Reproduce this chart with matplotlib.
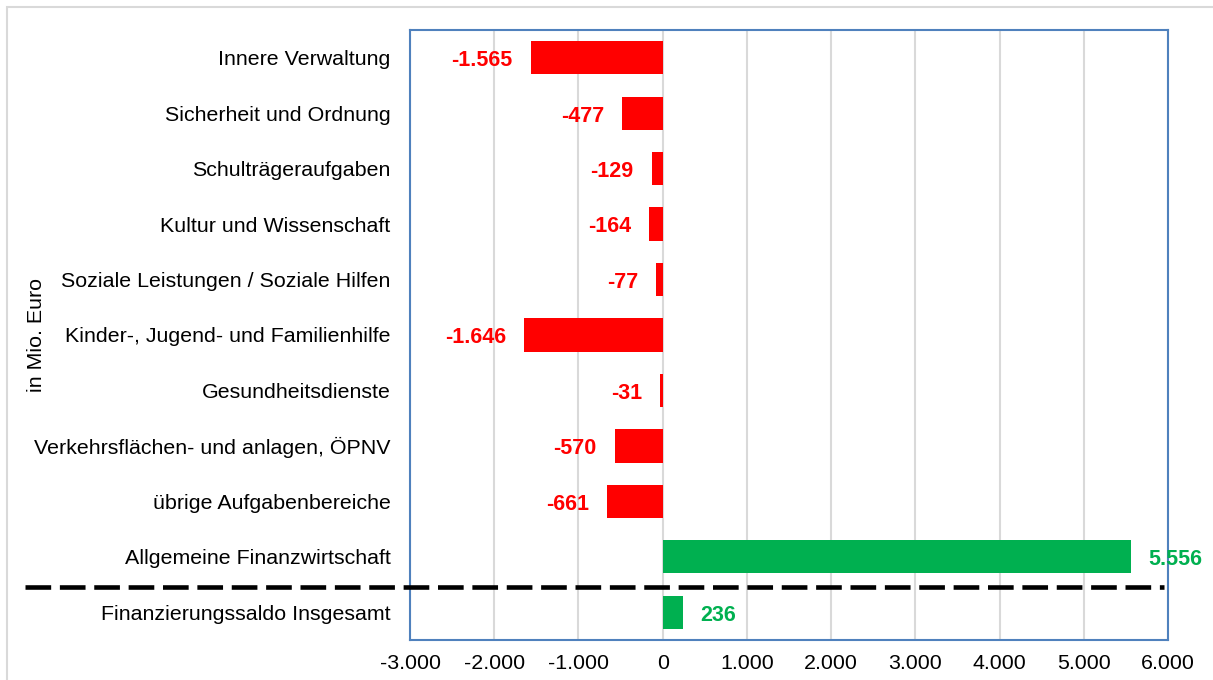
import matplotlib.pyplot as plt
import matplotlib.transforms as mtransforms
from matplotlib.lines import Line2D
from matplotlib.patches import Rectangle
from matplotlib.ticker import FuncFormatter

plt.rcParams['font.family'] = ['Liberation Sans', 'DejaVu Sans']

categories = [
    'Innere Verwaltung',
    'Sicherheit und Ordnung',
    'Schulträgeraufgaben',
    'Kultur und Wissenschaft',
    'Soziale Leistungen / Soziale Hilfen',
    'Kinder-, Jugend- und Familienhilfe',
    'Gesundheitsdienste',
    'Verkehrsflächen- und anlagen, ÖPNV',
    'übrige Aufgabenbereiche',
    'Allgemeine Finanzwirtschaft',
    'Finanzierungssaldo Insgesamt',
]
values = [-1565, -477, -129, -164, -77, -1646, -31, -570, -661, 5556, 236]
x_ticks = [-3000, -2000, -1000, 0, 1000, 2000, 3000, 4000, 5000, 6000]

RED = '#FF0000'
GREEN = '#00B050'
BLUE = '#4F81BD'


def de_num(v, pos=None):
    # German thousands separator
    return f'{int(v):,}'.replace(',', '.')


fig = plt.figure(figsize=(12.13, 6.8), dpi=100)
ax = fig.add_axes([410 / 1213, 40 / 680, 758 / 1213, 610 / 680])

ypos = list(range(len(categories)))
colors = [GREEN if v > 0 else RED for v in values]
ax.barh(ypos, values, height=0.6, color=colors, zorder=3)

for y, v, c in zip(ypos, values, colors):
    off = 13 if v > 0 else -13
    ax.annotate(de_num(v), (v, y), xytext=(off, -6), textcoords='offset points',
                ha='left' if v > 0 else 'right', va='baseline',
                color=c, fontsize=15.5, fontweight='bold', zorder=4)

ax.set_xlim(-3000, 6000)
ax.set_ylim(len(categories) - 0.5, -0.5)
ax.set_xticks(x_ticks)
ax.xaxis.set_major_formatter(FuncFormatter(de_num))
ax.set_yticks(ypos)
ax.set_yticklabels(categories)
ax.tick_params(axis='both', length=0, labelsize=15.4)
ax.tick_params(axis='y', pad=14)
ax.tick_params(axis='x', pad=10)
ax.grid(axis='x', color='#D9D9D9', linewidth=1.5, zorder=0)

for s in ax.spines.values():
    s.set_color(BLUE)
    s.set_linewidth(1.5)

ax.set_ylabel('in Mio. Euro', fontsize=15.4)
ax.yaxis.set_label_coords(-364 / 758, 0.5)

# dashed separator above the total, running across the whole chart
trans = mtransforms.blended_transform_factory(fig.transFigure, ax.transData)
sep = Line2D([25 / 1213, 1164 / 1213], [9.55, 9.55], transform=trans,
             color='black', linewidth=3.3, linestyle=(0, (5.6, 1.9)),
             clip_on=False, zorder=5)
fig.add_artist(sep)

# light frame around the chart area
fig.add_artist(Rectangle((7 / 1213, -0.1), 1.2, 1.1 - 7 / 680,
                         transform=fig.transFigure, fill=False,
                         edgecolor='#D9D9D9', linewidth=1.5))

plt.savefig('out.png', dpi=100)
